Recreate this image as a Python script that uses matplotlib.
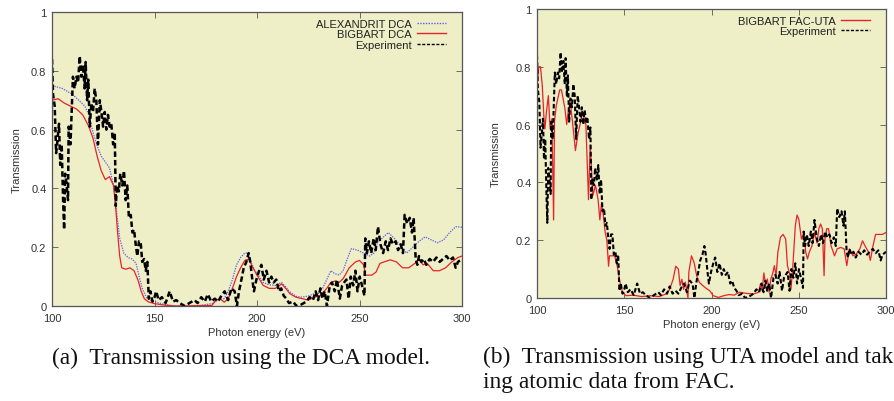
import matplotlib
matplotlib.use("Agg")
import matplotlib.pyplot as plt

# experiment (same data in both panels)
exp_e = [100, 100.5, 101.3, 102, 102.6, 103.4, 104, 104.7, 105.4, 105.9,
         106.4, 107, 107.8, 108.1, 109, 109.8, 110.2, 111, 111.9, 112.7,
         113.5, 114.3, 115.1, 115.9, 116.4, 117.1, 117.7, 118.4, 119.2, 120,
         120.8, 121.6, 122.4, 123.3, 124.1, 124.9, 125.7, 126.5, 127.3, 128.1,
         128.9, 129.8, 130.6, 131.1, 131.7, 132.6, 133.3, 134.3, 135.1, 135.9,
         136.7, 137.5, 138.4, 139.2, 140, 140.8, 141.6, 142.4, 143.2, 144,
         144.9, 145.7, 146.5, 147.2, 148, 149, 150, 150.8, 152, 153.6,
         155.4, 157.4, 159, 160.6, 162.3, 164.7, 167, 169.5, 171, 172.8,
         174.5, 176, 177.7, 179.4, 181, 182.6, 184.2, 185.9, 187.5, 189.1,
         190.2, 191.2, 192.4, 193.5, 194.8, 195.9, 196.7, 197.7, 198.5, 199.7,
         201, 202.1, 203.3, 204.6, 205.9, 207, 208.1, 209.4, 210.7, 211.8,
         213, 214.3, 215.6, 217.6, 219.2, 221.6, 224, 225.7, 227.3, 228.6,
         229.8, 230.9, 231.9, 233, 234.1, 235.5, 236.6, 237.9, 239, 240.4,
         241.5, 242.5, 243.6, 244.7, 245.7, 246.9, 248, 249, 250.1, 251.2,
         252.4, 252.8, 253.6, 254.6, 255.7, 256.9, 257.9, 259, 260.2, 261.5,
         262.8, 263.9, 265.1, 266.3, 267.6, 268.8, 270.1, 271.2, 272, 273.2,
         274.5, 275.6, 276.4, 277.4, 278.2, 279, 280.2, 281.3, 282.6, 284.2,
         285.9, 287.5, 289.1, 290.7, 292.4, 294, 295.6, 296.9, 298, 300]
exp_t = [0.84, 0.72, 0.68, 0.52, 0.56, 0.62, 0.48, 0.55, 0.36, 0.26,
         0.45, 0.42, 0.36, 0.61, 0.55, 0.70, 0.78, 0.74, 0.78, 0.76,
         0.85, 0.78, 0.82, 0.74, 0.83, 0.70, 0.77, 0.61, 0.69, 0.66,
         0.74, 0.70, 0.55, 0.70, 0.66, 0.61, 0.66, 0.60, 0.65, 0.61,
         0.62, 0.55, 0.59, 0.34, 0.41, 0.39, 0.45, 0.41, 0.46, 0.36,
         0.41, 0.30, 0.31, 0.25, 0.26, 0.21, 0.17, 0.22, 0.22, 0.15,
         0.16, 0.12, 0.15, 0.025, 0.05, 0.015, 0.03, 0.05, 0.02, 0.03,
         0.01, 0.05, 0.015, 0.02, 0.01, 0.0, 0.01, 0.02, 0.01, 0.03,
         0.015, 0.04, 0.015, 0.025, 0.015, 0.035, 0.05, 0.02, 0.06, 0.05,
         0.0, 0.05, 0.09, 0.13, 0.15, 0.18, 0.15, 0.09, 0.05, 0.09,
         0.12, 0.14, 0.09, 0.12, 0.08, 0.10, 0.08, 0.09, 0.05, 0.06,
         0.035, 0.025, 0.01, 0.015, 0.0, 0.005, 0.015, 0.03, 0.02, 0.05,
         0.02, 0.06, 0.025, 0.05, 0.0, 0.07, 0.08, 0.05, 0.09, 0.025,
         0.07, 0.08, 0.09, 0.025, 0.10, 0.07, 0.12, 0.05, 0.10, 0.07,
         0.035, 0.23, 0.18, 0.22, 0.18, 0.23, 0.19, 0.27, 0.21, 0.18,
         0.22, 0.19, 0.23, 0.21, 0.22, 0.19, 0.21, 0.18, 0.31, 0.28,
         0.30, 0.25, 0.30, 0.16, 0.14, 0.17, 0.15, 0.16, 0.14, 0.16,
         0.15, 0.165, 0.15, 0.16, 0.17, 0.155, 0.165, 0.13, 0.15, 0.16]

# ALEXANDRIT DCA
alex_e = [100, 105, 110, 113, 116, 118, 120, 122, 124, 126, 128, 130, 131.5, 133,
          135, 137, 139, 141, 142.5, 144, 146, 148, 150, 155, 160, 170, 178, 181,
          184, 186, 188, 190, 192, 194, 195.5, 197, 199, 201, 203, 206, 209, 212,
          214, 216, 219, 222, 225, 228, 230, 232, 234, 236, 238, 240, 242, 244,
          246, 249, 252, 255, 257, 259, 261, 264, 267, 270, 273, 276, 279, 282,
          285, 288, 291, 294, 297, 300]
alex_t = [0.75, 0.74, 0.72, 0.70, 0.68, 0.65, 0.59, 0.545, 0.51, 0.49, 0.47, 0.41, 0.32, 0.23,
          0.18, 0.165, 0.16, 0.145, 0.10, 0.06, 0.03, 0.02, 0.015, 0.005, 0.0, 0.0, 0.008, 0.02,
          0.025, 0.05, 0.09, 0.14, 0.165, 0.18, 0.18, 0.15, 0.12, 0.10, 0.08, 0.072, 0.07, 0.08,
          0.065, 0.048, 0.033, 0.03, 0.034, 0.042, 0.042, 0.06, 0.09, 0.12, 0.11, 0.105, 0.12, 0.16,
          0.195, 0.19, 0.18, 0.17, 0.18, 0.22, 0.23, 0.25, 0.23, 0.205, 0.18, 0.20, 0.22, 0.235,
          0.225, 0.215, 0.225, 0.25, 0.27, 0.268]

# BIGBART DCA
bdca_e = [100, 103, 106, 109, 112, 115, 118, 120, 122, 124, 126, 128, 130, 131,
          132, 133, 134, 136, 138, 140, 142, 143.5, 145, 147, 150, 155, 160, 178,
          180, 182, 184, 186, 188, 190, 192, 194, 196, 198, 200, 203, 206, 209,
          212, 214, 216, 219, 222, 225, 228, 231, 234, 236, 238, 240, 242, 245,
          248, 250, 252, 253, 256, 258, 260, 262, 265, 268, 271, 274, 277, 279,
          281, 283, 286, 289, 292, 295, 298, 300]
bdca_t = [0.70, 0.705, 0.69, 0.68, 0.67, 0.65, 0.61, 0.57, 0.51, 0.46, 0.43, 0.44, 0.41, 0.34,
          0.25, 0.17, 0.13, 0.125, 0.13, 0.12, 0.087, 0.05, 0.025, 0.014, 0.008, 0.003, 0.0, 0.002,
          0.02, 0.025, 0.013, 0.025, 0.06, 0.10, 0.13, 0.155, 0.16, 0.13, 0.105, 0.07, 0.06, 0.06,
          0.075, 0.06, 0.042, 0.03, 0.025, 0.02, 0.03, 0.036, 0.06, 0.08, 0.085, 0.08, 0.093, 0.13,
          0.15, 0.155, 0.14, 0.105, 0.105, 0.115, 0.145, 0.15, 0.157, 0.15, 0.13, 0.13, 0.145, 0.157,
          0.14, 0.145, 0.12, 0.12, 0.13, 0.15, 0.165, 0.17]

# BIGBART FAC-UTA
fac_e = [100, 101, 102, 103, 104, 104.5, 105.5, 106.5, 107.5, 108.5, 109.5, 110, 111, 113,
         114, 116, 117, 118, 119, 120.5, 122, 123.5, 125, 126, 127, 128, 129.5, 130.5,
         132, 133.5, 135, 136, 137, 138, 139, 140, 141, 141.5, 143, 144.5, 146, 147.5,
         149, 151, 155, 160, 165, 170, 174, 176, 178, 179.5, 181, 182, 183, 184,
         185, 186.5, 187, 188.5, 190, 191.5, 193, 195, 197, 199, 201, 204, 207, 210,
         213, 216, 220, 224, 227, 228, 229, 230, 231, 232, 233, 234, 235, 236,
         237, 238, 239.5, 241, 242.5, 243.5, 245, 245.5, 246.5, 248, 249, 250, 251.5, 253,
         254, 255, 256, 257.5, 259, 260.5, 261.5, 262.5, 263.5, 264.5, 265, 266, 267, 268.5,
         270.5, 272, 274, 276, 277.5, 279, 281, 283, 285, 286.5, 288, 290, 291, 292.5,
         294, 296, 298, 300]
fac_t = [0.735, 0.80, 0.80, 0.735, 0.62, 0.585, 0.65, 0.70, 0.585, 0.62, 0.27, 0.61, 0.665, 0.72,
         0.72, 0.655, 0.60, 0.65, 0.68, 0.60, 0.51, 0.57, 0.61, 0.64, 0.62, 0.60, 0.34, 0.53,
         0.355, 0.39, 0.34, 0.27, 0.33, 0.285, 0.23, 0.20, 0.11, 0.146, 0.146, 0.146, 0.11, 0.055,
         0.02, 0.008, 0.01, 0.005, 0.008, 0.005, 0.014, 0.03, 0.065, 0.11, 0.10, 0.043, 0.065, 0.03,
         0.055, 0.0, 0.09, 0.146, 0.123, 0.077, 0.054, 0.043, 0.033, 0.025, 0.008, 0.002, 0.008, 0.012,
         0.01, 0.02, 0.016, 0.014, 0.02, 0.048, 0.025, 0.087, 0.043, 0.066, 0.02, 0.066, 0.083, 0.112,
         0.077, 0.158, 0.21, 0.22, 0.204, 0.112, 0.077, 0.03, 0.10, 0.25, 0.287, 0.273, 0.204, 0.227,
         0.158, 0.135, 0.158, 0.18, 0.227, 0.19, 0.24, 0.256, 0.24, 0.077, 0.204, 0.24, 0.24, 0.18,
         0.146, 0.17, 0.175, 0.17, 0.112, 0.17, 0.146, 0.152, 0.17, 0.198, 0.18, 0.158, 0.13, 0.18,
         0.22, 0.22, 0.22, 0.227]

plt.rcParams['font.family'] = ['Liberation Sans', 'DejaVu Sans']

bg = "#eeeec7"
frame = "#555555"
fs = 8

fig = plt.figure(figsize=(8.94, 4.02), dpi=100)
ax1 = fig.add_axes([0.0582, 0.2363, 0.4586, 0.7313])
ax2 = fig.add_axes([0.6007, 0.2562, 0.3904, 0.7190])

ax1.plot(alex_e, alex_t, color="#5a5af0", lw=0.9, ls=(0, (1, 1)), label="ALEXANDRIT DCA")
ax1.plot(bdca_e, bdca_t, color="#e8232a", lw=0.9, label="BIGBART DCA")
ax1.plot(exp_e, exp_t, color="black", lw=1.8, ls=(0, (2.2, 1.2)), label="Experiment")

ax2.plot(fac_e, fac_t, color="#e8232a", lw=0.9, label="BIGBART FAC-UTA")
ax2.plot(exp_e, exp_t, color="black", lw=1.5, ls=(0, (2.2, 1.2)), label="Experiment")

for ax, lpad, w in ((ax1, 7, 410), (ax2, 11, 349)):
    ax.set_facecolor(bg)
    ax.set_xlim(100, 300)
    ax.set_ylim(0, 1)
    ax.set_xticks([100, 150, 200, 250, 300])
    ax.set_yticks([0, 0.2, 0.4, 0.6, 0.8, 1])
    ax.set_yticklabels(["0", "0.2", "0.4", "0.6", "0.8", "1"])
    ax.tick_params(direction="in", length=4, width=0.6, colors=frame,
                   labelcolor="#333333", labelsize=fs, top=True, right=True)
    ax.tick_params(axis="x", pad=5)
    ax.tick_params(axis="y", pad=4)
    for s in ax.spines.values():
        s.set_color(frame)
        s.set_linewidth(0.9)
    ax.set_xlabel("Photon energy (eV)", fontsize=fs, color="#333333", labelpad=3)
    ax.set_ylabel("Transmission", fontsize=fs, color="#333333", labelpad=lpad)
    leg = ax.legend(loc="upper right", bbox_to_anchor=(1 - 9 / w, 1), frameon=False,
                    markerfirst=False, fontsize=fs, handlelength=2.6, labelspacing=0.05,
                    borderaxespad=0.2, handletextpad=0.5)
    for t in leg.get_texts():
        t.set_color("#222222")
    for ln in leg.get_lines():
        ln.set_linewidth(1.0)

cap = dict(family="Liberation Serif", fontsize=16.8, color="#111111", va="center", ha="left")
fig.text(52 / 894, 1 - 358 / 402, "(a)  Transmission using the DCA model.", **cap)
fig.text(483 / 894, 1 - 357 / 402, "(b)  Transmission using UTA model and tak", **cap)
fig.text(483 / 894, 1 - 383 / 402, "ing atomic data from FAC.", **cap)

fig.savefig("out.png", dpi=100)
